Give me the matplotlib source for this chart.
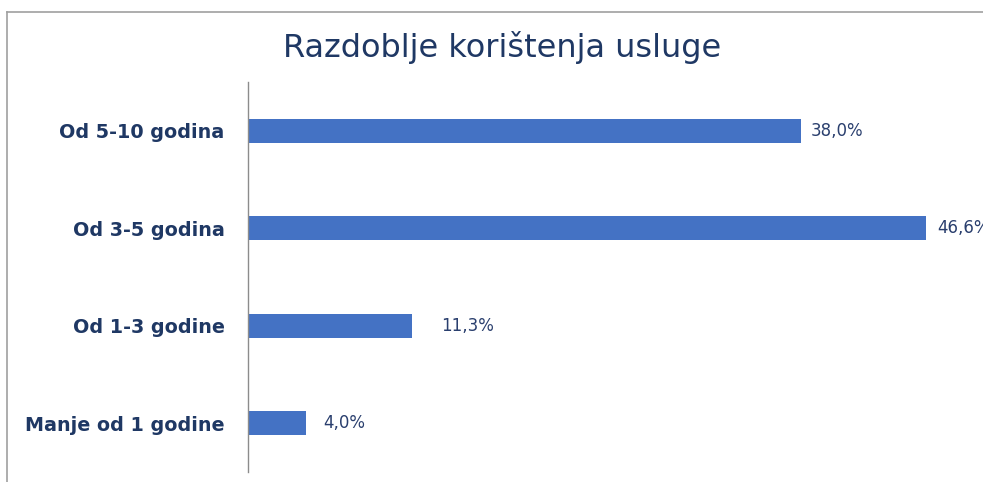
import matplotlib.pyplot as plt
from matplotlib.lines import Line2D

# data, top to bottom as shown
categories = ['Od 5-10 godina', 'Od 3-5 godina', 'Od 1-3 godine', 'Manje od 1 godine']
shares = [38.0, 46.6, 11.3, 4.0]
value_labels = ['38,0%', '46,6%', '11,3%', '4,0%']
label_offsets = [7, 8, 21, 12]  # points right of bar end

NAVY = '#1F3864'
BAR = '#4472C4'


def _main():
    fig = plt.figure(figsize=(9.83, 4.82), dpi=100)
    ax = fig.add_axes([248 / 983, 1 - 472 / 482, 1 - 248 / 983, (472 - 82) / 482])

    ypos = list(range(len(categories)))
    ax.barh(ypos, shares, height=0.245, color=BAR)
    ax.set_ylim(len(categories) - 0.5, -0.5)
    ax.set_xlim(0, (983 - 248) / ((801 - 248) / 38.0))

    for y, v, lab, off in zip(ypos, shares, value_labels, label_offsets):
        ax.annotate(lab, (v, y), xytext=(off, 0), textcoords='offset points',
                    va='center', ha='left', fontsize=12, color='#2A3F6E',
                    family='DejaVu Sans', annotation_clip=False)

    ax.set_yticks(ypos)
    ax.set_yticklabels(categories, fontsize=13.8, fontweight='bold', color=NAVY,
                       family='DejaVu Sans')
    ax.tick_params(axis='y', length=0, pad=17)
    ax.set_xticks([])
    for side in ('top', 'right', 'bottom'):
        ax.spines[side].set_visible(False)
    ax.spines['left'].set_color('#8C8C8C')
    ax.spines['left'].set_linewidth(1.0)

    fig.text(502 / 983, 1 - 48 / 482, 'Razdoblje korištenja usluge',
             ha='center', va='center', fontsize=23, color=NAVY,
             family='DejaVu Sans')

    # outer chart border (cropped on right and bottom)
    border = '#A0A0A0'
    fig.add_artist(Line2D([7 / 983, 1.0], [1 - 12 / 482, 1 - 12 / 482],
                          transform=fig.transFigure, color=border, lw=1.2))
    fig.add_artist(Line2D([7 / 983, 7 / 983], [0.0, 1 - 12 / 482],
                          transform=fig.transFigure, color=border, lw=1.2))

    fig.savefig('out.png', dpi=100)


if __name__ == "__main__":
    _main()
